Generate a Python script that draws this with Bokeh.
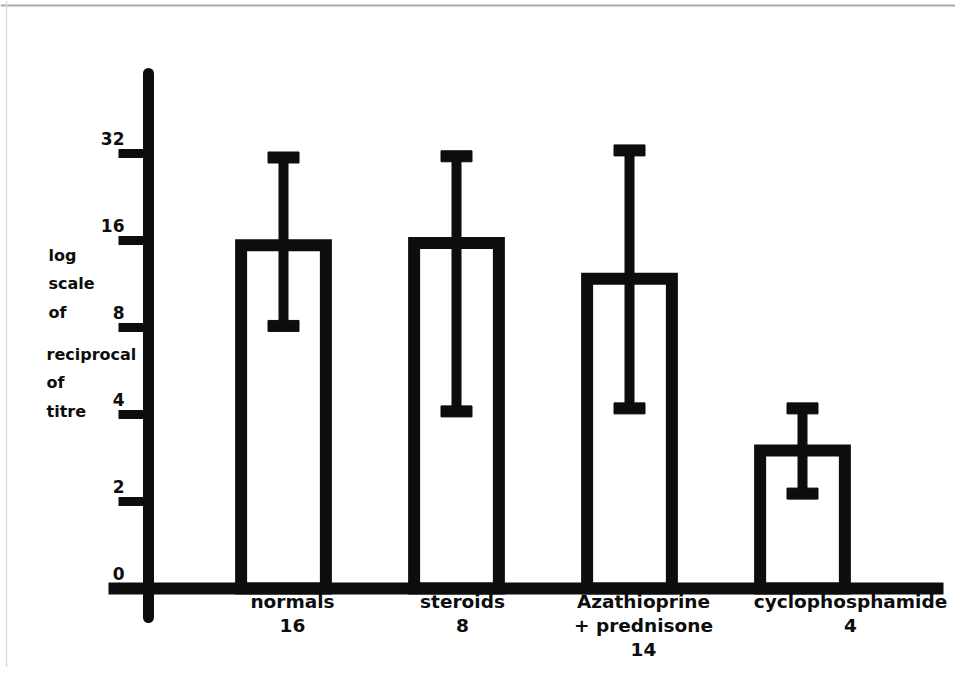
from bokeh.plotting import figure
from bokeh.models import LogAxis, LinearAxis, FixedTicker, ColumnDataSource, Span
from bokeh.core.properties import value
from bokeh.embed import file_html
from bokeh.resources import INLINE

# ---- data ----
categories = ["normals", "steroids", "Azathioprine\n+ prednisone", "cyclophosphamide"]
group_sizes = ["16", "8", "14", "4"]
mean_titre = [15.4, 15.7, 11.8, 3.0]
upper_titre = [31.0, 31.3, 32.8, 4.2]
lower_titre = [8.1, 4.1, 4.2, 2.13]
tick_values = [1, 2, 4, 8, 16, 32]
tick_labels = ["0", "2", "4", "8", "16", "32"]
axis_title_top = "log\nscale\nof"
axis_title_bottom = "reciprocal\nof\ntitre"

# ---- layout helpers (pixel placement -> data coords) ----
X0, XS = 110.0, 173.0        # canvas x of data 0, px per category
Y1, YS = 588.0, 87.0         # canvas y of value 1, px per doubling


def sx(px):
    return (px - X0) / XS


def sy(py):
    return 2 ** ((Y1 - py) / YS)


W, H = 955, 667
INK = "#0d0d0d"
FONT = value("DejaVu Sans")

p = figure(width=W, height=H, y_axis_type="log",
           x_range=(sx(0), sx(W)), y_range=(sy(H), sy(0)),
           x_axis_location=None, y_axis_location=None,
           toolbar_location=None, output_backend="svg",
           min_border=0, background_fill_color="white",
           border_fill_color="white")
p.outline_line_color = None
p.xgrid.grid_line_color = None
p.ygrid.grid_line_color = None

# faint photo frame edges (top and left)
p.add_layout(Span(location=sy(5), dimension="width", line_color="#a8a8a8", line_width=2))
p.add_layout(Span(location=sx(6), dimension="height", line_color="#dcdcdc", line_width=1.5))

xpos = [i + 1 for i in range(len(categories))]
labels = [c + "\n" + n for c, n in zip(categories, group_sizes)]
label_dx = [9, 6, 14, 48]

src = ColumnDataSource(dict(x=xpos, top=mean_titre, hi=upper_titre, lo=lower_titre,
                            label=labels, dx=label_dx))

# bars (open boxes)
p.vbar(x="x", top="top", bottom=1, width=0.49, source=src,
       fill_color="white", line_color=INK, line_width=12, line_join="miter")

# error bars
p.segment(x0="x", y0="lo", x1="x", y1="hi", source=src,
          line_color=INK, line_width=10)
p.rect(x="x", y="hi", width=31, height=11, width_units="screen", height_units="screen",
       source=src, fill_color=INK, line_color=INK, line_width=1, line_join="round")
p.rect(x="x", y="lo", width=31, height=11, width_units="screen", height_units="screen",
       source=src, fill_color=INK, line_color=INK, line_width=1, line_join="round")

# y axis (log, drawn at a fixed location inside the frame)
yax = LogAxis(fixed_location=sx(148), bounds=(sy(617), sy(73)),
              ticker=FixedTicker(ticks=tick_values[1:]))
yax.axis_line_width = 11
yax.axis_line_color = INK
yax.axis_line_cap = "round"
yax.major_tick_out = 30
yax.major_tick_in = 0
yax.major_tick_line_width = 9
yax.major_tick_line_color = INK
yax.minor_tick_line_color = None
yax.major_label_text_font_size = "0px"
yax.major_label_text_color = None
p.add_layout(yax, "left")

# baseline (x axis)
xax = LinearAxis(fixed_location=1, bounds=(sx(108), sx(943)),
                 ticker=FixedTicker(ticks=[]))
xax.axis_line_width = 12
xax.axis_line_color = INK
xax.major_tick_line_color = None
xax.minor_tick_line_color = None
xax.major_label_text_font_size = "0px"
xax.major_label_text_color = None
p.add_layout(xax, "below")

# tick labels
tsrc = ColumnDataSource(dict(y=tick_values, t=tick_labels))
p.text(x=sx(148), y="y", text="t", source=tsrc, x_offset=-24, y_offset=-15,
       text_align="right", text_baseline="middle", text_color=INK,
       text_font=FONT, text_font_style="bold", text_font_size="17px")

# category labels
p.text(x="x", y=sy(590), text="label", source=src, x_offset="dx",
       text_align="center", text_baseline="top", text_color=INK,
       text_font=FONT, text_font_style="bold", text_font_size="18.5px",
       text_line_height=1.15)

# axis title
p.text(x=[sx(48)], y=[sy(245)], text=[axis_title_top],
       text_align="left", text_baseline="top", text_color=INK,
       text_font=FONT, text_font_style="bold", text_font_size="16px",
       text_line_height=1.5)
p.text(x=[sx(46)], y=[sy(344)], text=[axis_title_bottom],
       text_align="left", text_baseline="top", text_color=INK,
       text_font=FONT, text_font_style="bold", text_font_size="16px",
       text_line_height=1.5)

open("out.html", "w").write(file_html(p, INLINE))
